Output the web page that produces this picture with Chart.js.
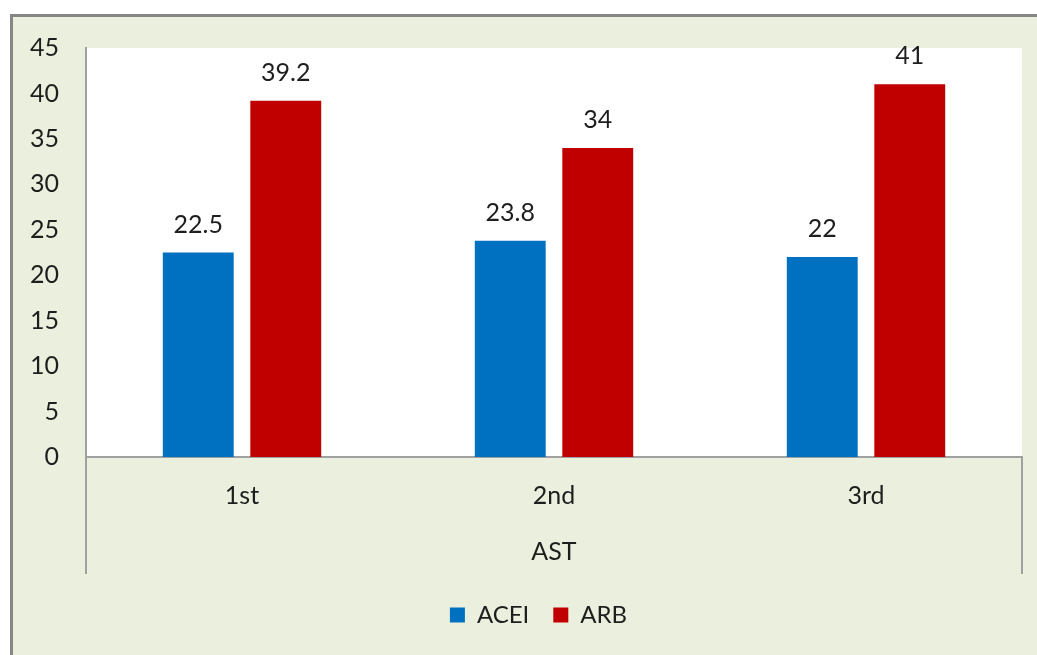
<!DOCTYPE html>
<html>
<head>
<meta charset="utf-8">
<title>AST – ACEI vs ARB</title>
<script src="https://cdn.jsdelivr.net/npm/chart.js@4.4.1/dist/chart.umd.min.js"></script>
<style>
  html, body { margin: 0; padding: 0; background: #ffffff; overflow: hidden; }
  .frame {
    position: absolute;
    left: 10px;
    top: 14px;
    width: 1024px;
    height: 638px;
    border-left: 3px solid #868686;
    border-top: 3px solid #868686;
    background: #ebf0de;
  }
  canvas { display: block; }
</style>
</head>
<body>
<div class="frame">
  <canvas id="ast-chart" width="1024" height="638"></canvas>
</div>

<script>
// ── data ──────────────────────────────────────
const categories = ['1st', '2nd', '3rd'];
const groupLabel = 'AST';
const acei = [22.5, 23.8, 22];
const arb = [39.2, 34, 41];
const yTicks = [0, 5, 10, 15, 20, 25, 30, 35, 40, 45];

const FONT = { family: 'Lato, "Open Sans", sans-serif', size: 25 };
const LEGEND_FONT = { family: 'Lato, "Open Sans", sans-serif', size: 24 };
const TEXT = '#1e1e1e';
const AXIS = '#a0a0a0';

// value labels above each bar
const valueLabels = {
  id: 'valueLabels',
  afterDatasetsDraw(chart) {
    const { ctx } = chart;
    ctx.save();
    ctx.font = `${FONT.size}px ${FONT.family}`;
    ctx.fillStyle = TEXT;
    ctx.textAlign = 'center';
    ctx.textBaseline = 'alphabetic';
    chart.data.datasets.forEach((ds, i) => {
      chart.getDatasetMeta(i).data.forEach((bar, j) => {
        ctx.fillText(String(ds.data[j]), bar.x, bar.y - 20);
      });
    });
    ctx.restore();
  },
};

// outer category lines running down past the axis labels
const axisEnds = {
  id: 'axisEnds',
  afterDraw(chart) {
    const { ctx, chartArea } = chart;
    ctx.save();
    ctx.strokeStyle = AXIS;
    ctx.lineWidth = 2;
    ctx.beginPath();
    [chartArea.left, chartArea.right].forEach(x => {
      ctx.moveTo(x, chartArea.bottom);
      ctx.lineTo(x, chartArea.bottom + 117);
    });
    ctx.stroke();
    ctx.restore();
  },
};

// plot area fill
const plotBg = {
  id: 'plotBg',
  beforeDraw(chart) {
    const { ctx, chartArea } = chart;
    ctx.save();
    ctx.fillStyle = '#ffffff';
    ctx.fillRect(chartArea.left, chartArea.top,
      chartArea.right - chartArea.left, chartArea.bottom - chartArea.top);
    ctx.restore();
  },
};

// nudge the legend row a little to the right
const legendShift = {
  id: 'legendShift',
  afterLayout(chart) {
    if (!chart.legend) return;
    chart.legend.left += 21;
    chart.legend.right += 21;
  },
};

new Chart(document.getElementById('ast-chart'), {
  type: 'bar',
  data: {
    labels: categories,
    datasets: [
      {
        label: 'ACEI',
        data: acei,
        backgroundColor: '#0070c0',
        borderWidth: 0,
        categoryPercentage: 0.561,
        barPercentage: 0.81,
      },
      {
        label: 'ARB',
        data: arb,
        backgroundColor: '#c00000',
        borderWidth: 0,
        categoryPercentage: 0.561,
        barPercentage: 0.81,
      },
    ],
  },
  options: {
    responsive: false,
    animation: false,
    layout: { padding: { left: 0, top: 31, right: 15, bottom: 18 } },
    plugins: {
      legend: {
        position: 'bottom',
        labels: {
          color: TEXT,
          font: LEGEND_FONT,
          boxWidth: 15,
          boxHeight: 15,
          padding: 24,
        },
      },
      tooltip: { enabled: false },
    },
    scales: {
      x: {
        grid: { display: false, drawTicks: false },
        border: { display: true, color: AXIS, width: 2 },
        ticks: { color: TEXT, font: FONT, padding: 24 },
        title: {
          display: true,
          text: groupLabel,
          color: TEXT,
          font: FONT,
          padding: { top: 0, bottom: 12 },
        },
        afterFit(scale) { scale.height = 122; },
      },
      y: {
        min: 0,
        max: 45,
        grid: { display: false, drawTicks: false },
        border: { display: true, color: AXIS, width: 2 },
        afterBuildTicks(scale) { scale.ticks = yTicks.map(v => ({ value: v })); },
        ticks: { color: TEXT, font: FONT, padding: 27 },
        afterFit(scale) {
          // fixed gutter; tick padding should not push the plot top down
          scale.width = 73;
          scale.paddingTop = 0;
          scale.paddingBottom = 0;
        },
      },
    },
  },
  plugins: [plotBg, valueLabels, axisEnds, legendShift],
});
</script>
</body>
</html>
